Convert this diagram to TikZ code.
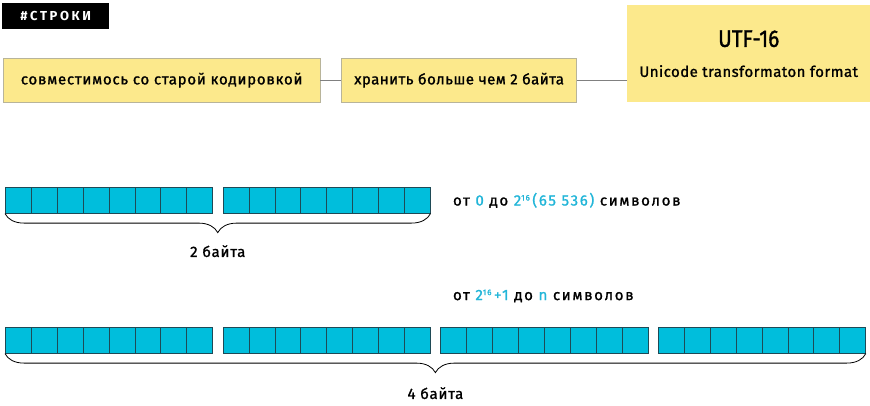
\documentclass[tikz,border=0pt]{standalone}
\usepackage{fontspec}
\setmainfont{Fira Sans}[LetterSpace=5, FakeBold=1.2]
\newfontfamily\tagfont{Fira Sans}[LetterSpace=20, BoldFont=* Bold]
\newfontfamily\titlefont{Fira Sans}[FakeStretch=0.86, FakeBold=1.2]
\usetikzlibrary{positioning,decorations.pathreplacing}

\definecolor{boxyellow}{HTML}{FCE98C}
\definecolor{boxedge}{HTML}{B8B49A}
\definecolor{bitcyan}{HTML}{00BEDC}
\definecolor{bitline}{HTML}{1E4A56}
\definecolor{textcyan}{HTML}{22B5D8}

\newcommand{\sixteen}{\raisebox{5pt}{\fontsize{8}{9}\selectfont 16}}

\begin{document}
\begin{tikzpicture}[x=1pt, y=-1pt, font=\fontsize{15}{18}\selectfont,
    yellowbox/.style={draw=boxedge, fill=boxyellow, minimum height=44, inner sep=0pt},
    bit/.style={draw=bitline, fill=bitcyan, minimum width=25.9, minimum height=26, inner sep=0pt, line width=0.6pt},
    link/.style={draw=gray, line width=0.7pt},
    rangetext/.style={font=\fontsize{15}{18}\selectfont\addfontfeature{LetterSpace=11}},
    bytebrace/.style={decorate, decoration={brace, mirror, amplitude=19pt}, line width=0.8pt}]
    \useasboundingbox (0,0) rectangle (870,405);

    % Заголовок и блоки
    \node[fill=black, text=white, minimum width=107, minimum height=26, anchor=north west, font=\tagfont\bfseries\fontsize{13}{15}\selectfont] (tag) at (2,3) {\#СТРОКИ};
    \node[yellowbox, minimum width=317, anchor=north west] (compat) at (3,58) {совместимось со старой кодировкой};
    \node[yellowbox, minimum width=235, right=21pt of compat, font=\fontsize{15}{18}\selectfont\addfontfeature{LetterSpace=3}] (store) {хранить больше чем 2 байта};
    \node[fill=boxyellow, minimum width=243, minimum height=97, anchor=north west, align=center] (utf) at (627,5)
        {{\titlefont\fontsize{24}{28}\selectfont UTF-16}\\[12pt]\addfontfeature{LetterSpace=3}Unicode transformaton format};
    \draw[link] (compat) -- (store);
    \draw[link] (store.east) -- (store.east -| utf.west);

    % 2 байта
    \foreach \g/\gx in {1/5, 2/222.7}
        \foreach \i in {1,...,8}
            \node[bit, anchor=north west] (a\g-\i) at ({\gx+(\i-1)*25.9},187) {};
    \draw[bytebrace] (a1-1.south west) -- (a2-8.south east) node[midway, below=28pt] (two) {2 байта};
    \node[rangetext, right=19pt of a2-8] (range1) {от {\color{textcyan}0} до {\color{textcyan}2\sixteen\,(65 536)} символов};

    % 4 байта
    \foreach \g/\gx in {1/5, 2/222.7, 3/440.3, 4/658}
        \foreach \i in {1,...,8}
            \node[bit, anchor=north west] (b\g-\i) at ({\gx+(\i-1)*25.9},327) {};
    \draw[bytebrace] (b1-1.south west) -- (b4-8.south east) node[midway, below=30pt] (four) {4 байта};
    \node[rangetext, anchor=west] (range2) at (range1.west |- 0,296) {от {\color{textcyan}2\sixteen\,+1} до {\color{textcyan}n} символов};
\end{tikzpicture}
\end{document}
